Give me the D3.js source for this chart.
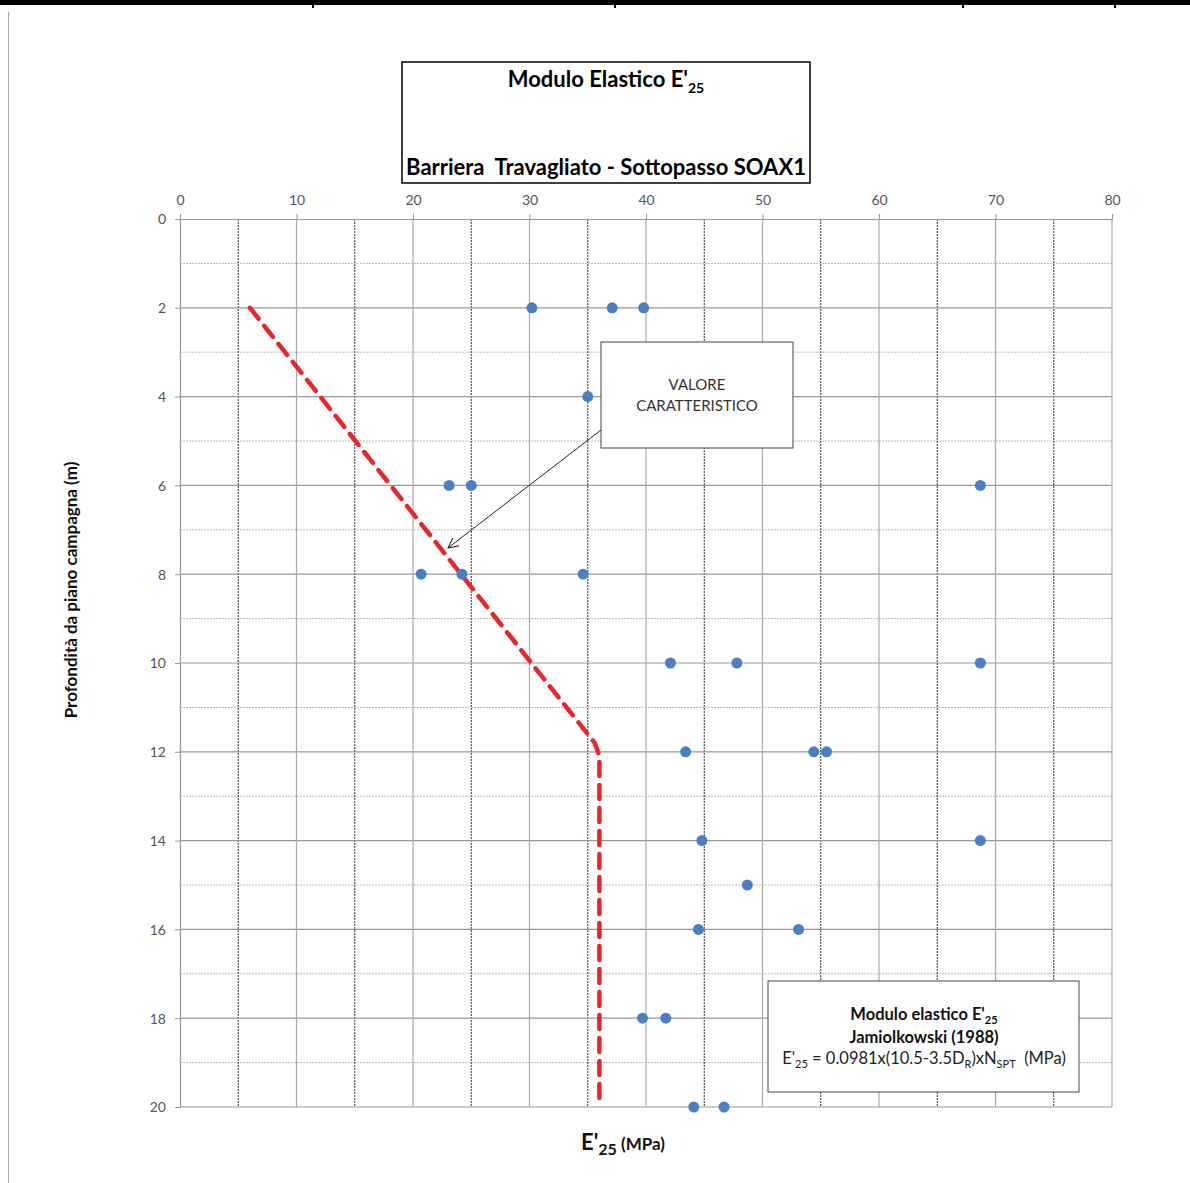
<!DOCTYPE html>
<html><head><meta charset="utf-8">
<script src="https://cdn.jsdelivr.net/npm/d3@7"></script>
<style>body{margin:0;background:#fff}svg{display:block}</style>
</head><body>
<script>
// ---- data ----
const xTicks = [0,10,20,30,40,50,60,70,80];
const yTicks = [0,2,4,6,8,10,12,14,16,18,20];
const depth = [2,2,2,4,6,6,6,8,8,8,10,10,10,12,12,12,14,14,15,16,16,18,18,20,20];
const modulus = [30.2,37.1,39.8,35.0,23.1,25.0,68.7,20.7,24.2,34.6,42.1,47.8,68.7,43.4,54.4,55.5,44.8,68.7,48.7,44.5,53.1,39.7,41.7,44.1,46.7];
const charX = [6.0,35.6,36.0,36.0];
const charY = [2.0,11.8,12.1,19.8];

const W=1190,H=1183;
const svg=d3.select("body").append("svg").attr("width",W).attr("height",H);
const font="Lato, 'Open Sans', sans-serif";
const x=d3.scaleLinear().domain([0,80]).range([180,1112]);
const y=d3.scaleLinear().domain([0,20]).range([219,1107]);

// page frame
svg.append("rect").attr("x",0).attr("y",0).attr("width",W).attr("height",5).attr("fill","#000");
[313,615,963,1115].forEach(px=>svg.append("rect").attr("x",px-1).attr("y",5).attr("width",2).attr("height",3).attr("fill","#000"));
svg.append("line").attr("x1",8.5).attr("x2",8.5).attr("y1",12).attr("y2",H).attr("stroke","#aaa").attr("stroke-width",1);

// grid
const g=svg.append("g");
d3.range(1,20,2).forEach(d=>g.append("line").attr("x1",x(0)).attr("x2",x(80)).attr("y1",y(d)).attr("y2",y(d))
  .attr("stroke","#bbb").attr("stroke-width",1).attr("stroke-dasharray","2,1"));
d3.range(5,80,10).forEach(d=>g.append("line").attr("x1",x(d)).attr("x2",x(d)).attr("y1",y(0)).attr("y2",y(20))
  .attr("stroke","#333").attr("stroke-width",1).attr("stroke-dasharray","2,1"));
yTicks.slice(1).forEach(d=>g.append("line").attr("x1",x(0)).attr("x2",x(80)).attr("y1",y(d)).attr("y2",y(d))
  .attr("stroke","#999").attr("stroke-width",1.2));
xTicks.slice(1).forEach(d=>g.append("line").attr("x1",x(d)).attr("x2",x(d)).attr("y1",y(0)).attr("y2",y(20))
  .attr("stroke","#aaa").attr("stroke-width",1.2));

// axes
const ax=svg.append("g").attr("transform",`translate(0,${y(0)})`)
  .call(d3.axisTop(x).tickValues(xTicks).tickSize(5).tickSizeOuter(0).tickPadding(9));
const ay=svg.append("g").attr("transform",`translate(${x(0)},0)`)
  .call(d3.axisLeft(y).tickValues(yTicks).tickSize(5).tickSizeOuter(0).tickPadding(9));
[ax,ay].forEach(a=>{
  a.select(".domain").attr("stroke","#999").attr("stroke-width",1.2);
  a.selectAll(".tick line").attr("stroke","#999");
  a.selectAll(".tick text").attr("fill","#555").style("font-family",font).style("font-size","14px");
});
ay.selectAll(".tick text").attr("dy","0.35em");

// characteristic line
svg.append("path").datum(charX.map((v,i)=>[v,charY[i]]))
  .attr("d",d3.line().x(d=>x(d[0])).y(d=>y(d[1])))
  .attr("fill","none").attr("stroke","#e5262a").attr("stroke-width",4.5)
  .attr("stroke-dasharray","14,9").attr("stroke-linecap","round").attr("stroke-linejoin","round");

// points
svg.append("g").selectAll("circle").data(depth).join("circle")
  .attr("cx",(d,i)=>x(modulus[i])).attr("cy",d=>y(d)).attr("r",5.5).attr("fill","#4a7fc1");

// title box
svg.append("rect").attr("x",402).attr("y",62).attr("width",408).attr("height",121)
  .attr("fill","#fff").attr("stroke","#000").attr("stroke-width",1.5);
const t1=svg.append("text").attr("x",606).attr("y",87).attr("text-anchor","middle")
  .style("font-family",font).style("font-weight","bold").style("font-size","22px").attr("fill","#000");
t1.append("tspan").text("Modulo Elastico E'");
t1.append("tspan").text("25").attr("dy",6).style("font-size","14px");
svg.append("text").attr("x",606).attr("y",175).attr("text-anchor","middle")
  .style("font-family",font).style("font-weight","bold").style("font-size","22px").attr("fill","#000")
  .attr("xml:space","preserve").text("Barriera  Travagliato - Sottopasso SOAX1");

// callout
svg.append("defs").append("marker").attr("id","arr").attr("viewBox","0 0 12 12").attr("refX",11).attr("refY",6)
  .attr("markerWidth",12).attr("markerHeight",12).attr("markerUnits","userSpaceOnUse").attr("orient","auto")
  .append("path").attr("d","M1,1 L11,6 L1,11").attr("fill","none").attr("stroke","#222").attr("stroke-width",1);
svg.append("line").attr("x1",601).attr("y1",430).attr("x2",448).attr("y2",548)
  .attr("stroke","#222").attr("stroke-width",1).attr("marker-end","url(#arr)");
svg.append("rect").attr("x",601).attr("y",342).attr("width",192).attr("height",106)
  .attr("fill","#fff").attr("stroke","#444").attr("stroke-width",1);
["VALORE","CARATTERISTICO"].forEach((s,i)=>svg.append("text").attr("x",697).attr("y",390+i*21)
  .attr("text-anchor","middle").style("font-family",font).style("font-size","15px").attr("fill","#333").text(s));

// formula box
svg.append("rect").attr("x",768).attr("y",981).attr("width",311).attr("height",111)
  .attr("fill","#fff").attr("stroke","#444").attr("stroke-width",1);
const l1=svg.append("text").attr("x",924).attr("y",1020).attr("text-anchor","middle")
  .style("font-family",font).style("font-weight","bold").style("font-size","16.5px").attr("fill","#111");
l1.append("tspan").text("Modulo elastico E'");
l1.append("tspan").text("25").attr("dy",4).style("font-size","11px");
svg.append("text").attr("x",924).attr("y",1043).attr("text-anchor","middle")
  .style("font-family",font).style("font-weight","bold").style("font-size","16.5px").attr("fill","#111").text("Jamiolkowski (1988)");
const l3=svg.append("text").attr("x",924).attr("y",1064).attr("text-anchor","middle")
  .style("font-family",font).style("font-size","16.5px").attr("fill","#222");
l3.append("tspan").text("E'");
l3.append("tspan").text("25").attr("dy",4).style("font-size","11px");
l3.append("tspan").text(" = 0.0981x(10.5-3.5D").attr("dy",-4);
l3.append("tspan").text("R").attr("dy",4).style("font-size","11px");
l3.append("tspan").text(")xN").attr("dy",-4);
l3.append("tspan").text("SPT").attr("dy",4).style("font-size","11px");
l3.append("tspan").text("\u00a0\u00a0(MPa)").attr("dy",-4);

// axis titles
const xt=svg.append("text").attr("x",623).attr("y",1150).attr("text-anchor","middle")
  .style("font-family",font).style("font-weight","bold").attr("fill","#111");
xt.append("tspan").text("E'").style("font-size","22px");
xt.append("tspan").text("25").attr("dy",5).style("font-size","16px");
xt.append("tspan").text(" (MPa)").attr("dy",-5).style("font-size","17px");
svg.append("text").attr("transform","translate(77,590) rotate(-90)").attr("text-anchor","middle")
  .style("font-family",font).style("font-weight","bold").style("font-size","17px").attr("fill","#111")
  .text("Profondità da piano campagna (m)");
</script>
</body></html>
